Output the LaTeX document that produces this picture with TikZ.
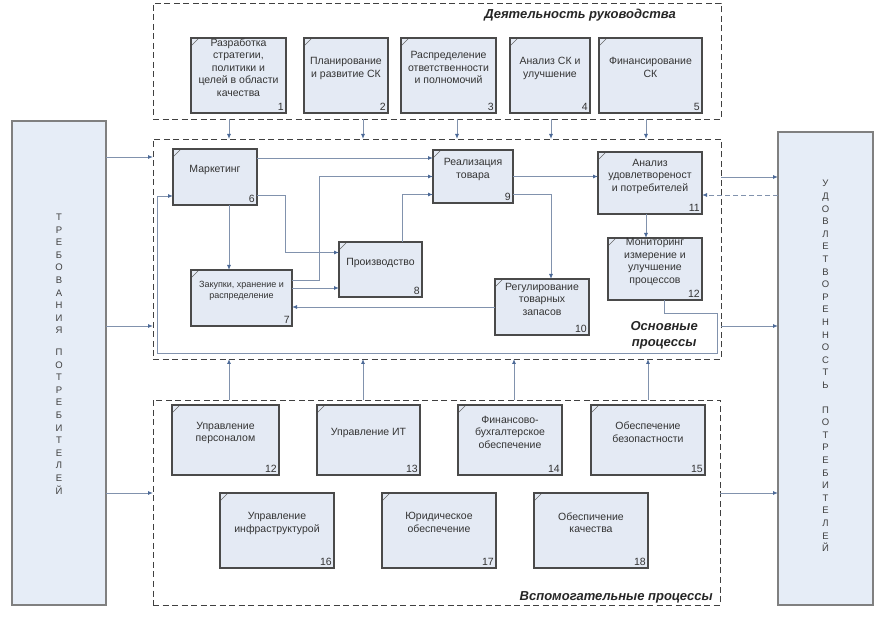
\documentclass[tikz,border=0pt]{standalone}
\usepackage{fontspec}
\setmainfont{Liberation Sans}
\usepackage{tikz}
\usetikzlibrary{shapes,positioning,calc}
\usetikzlibrary{arrows.meta}
\usetikzlibrary{shadows}
\definecolor{boxfill}{HTML}{E4EAF4}
\definecolor{boxline}{HTML}{4A4A4A}
\definecolor{linec}{HTML}{8192AD}
\definecolor{tipc}{HTML}{4A6896}
\definecolor{sidefill}{HTML}{E6EDF7}
\tikzstyle{proc} = [rectangle, draw=boxline, line width=1.2pt, fill=boxfill, text=black!80,
drop shadow={shadow xshift=1.2pt, shadow yshift=-1.2pt, fill=black!45},
inner xsep=2pt, inner ysep=0pt, outer sep=0pt, align=center, text depth=16pt,
font=\fontsize{10.5}{12.5}\selectfont,
path picture={\draw[black!60, line width=0.6pt] ([yshift=-8pt]path picture bounding box.north west) -- ([xshift=8pt]path picture bounding box.north west);}]
\tikzset{num/.style={label={[anchor=south east, inner sep=2pt, text=black!80, font=\fontsize{10.5}{12}\selectfont]south east:#1}}}
\tikzstyle{group} = [rectangle, draw=black!75, dash pattern=on 6pt off 3.5pt, line width=0.9pt, inner sep=0pt, outer sep=0pt]
\tikzstyle{grouptitle} = [inner sep=0pt, text=black!85, font=\fontsize{13}{16}\selectfont\bfseries\itshape]
\tikzstyle{side} = [rectangle, draw=black!50, line width=1.2pt, fill=sidefill, inner sep=0pt, outer sep=0pt]
\tikzstyle{sidetext} = [align=center, inner sep=0pt, text=black!75, font=\fontsize{9.5}{12.6}\selectfont]
\tikzstyle{arrow} = [draw=linec, line width=0.9pt, -{Latex[length=5pt,width=4pt,color=tipc]}]
\begin{document}
\begin{tikzpicture}[x=1pt,y=-1pt]
\useasboundingbox (0,0) rectangle (887,617);
% containers
\node (top) at (437,61) [group, minimum width=568, minimum height=116] {};
\node (main) at (437,249) [group, minimum width=568, minimum height=220] {};
\node (bot) at (436.5,502.5) [group, minimum width=567, minimum height=205] {};
\node (toptitle) at (676,15) [grouptitle, anchor=east] {Деятельность руководства};
\node (maintitle) at (698,335) [grouptitle, anchor=east, align=center] {Основные\\процессы};
\node (bottitle) at (713,600) [grouptitle, anchor=base east] {Вспомогательные процессы};
% customers
\node (req) at (59,363) [side, minimum width=94, minimum height=484] {};
\node (reqlbl) at (59,354) [sidetext] {Т\\Р\\Е\\Б\\О\\В\\А\\Н\\И\\Я\\[9pt]П\\О\\Т\\Р\\Е\\Б\\И\\Т\\Е\\Л\\Е\\Й};
\node (sat) at (825.5,368.5) [side, minimum width=95, minimum height=473] {};
\node (satlbl) at (825.5,366) [sidetext] {У\\Д\\О\\В\\Л\\Е\\Т\\В\\О\\Р\\Е\\Н\\Н\\О\\С\\Т\\Ь\\[12pt]П\\О\\Т\\Р\\Е\\Б\\И\\Т\\Е\\Л\\Е\\Й};
% management
\node (m1) at (238.5,75.5) [proc, num=1, minimum width=95, minimum height=75] {Разработка\\стратегии,\\политики и\\целей в области\\качества};
\node (m2) at (346,75.5) [proc, num=2, minimum width=84, minimum height=75] {Планирование\\и развитие СК};
\node (m3) at (448.5,75.5) [proc, num=3, minimum width=95, minimum height=75] {Распределение\\ответственности\\и полномочий};
\node (m4) at (550,75.5) [proc, num=4, minimum width=80, minimum height=75] {Анализ СК и\\улучшение};
\node (m5) at (650.5,75.5) [proc, num=5, minimum width=103, minimum height=75] {Финансирование\\СК};
% main processes
\node (p6) at (215,177) [proc, num=6, minimum width=84, minimum height=56] {Маркетинг};
\node (p7) at (241.5,298) [proc, num=7, minimum width=101, minimum height=56, font=\fontsize{9}{11.5}\selectfont] {Закупки, хранение и\\распределение};
\node (p8) at (380.5,269.5) [proc, num=8, minimum width=83, minimum height=55] {Производство};
\node (p9) at (473,176.5) [proc, num=9, minimum width=80, minimum height=53] {Реализация\\товара};
\node (p10) at (542,307) [proc, num=10, minimum width=94, minimum height=56] {Регулирование\\товарных\\запасов};
\node (p11) at (650,183) [proc, num=11, minimum width=104, minimum height=62] {Анализ\\удовлетвореност\\и потребителей};
\node (p12) at (655,269) [proc, num=12, minimum width=94, minimum height=62] {Мониторинг\\измерение и\\улучшение\\процессов};
% support processes
\node (s12) at (225.5,440) [proc, num=12, minimum width=107, minimum height=70] {Управление\\персоналом};
\node (s13) at (368.5,440) [proc, num=13, minimum width=103, minimum height=70] {Управление ИТ};
\node (s14) at (510,440) [proc, num=14, minimum width=104, minimum height=70] {Финансово-\\бухгалтерское\\обеспечение};
\node (s15) at (648,440) [proc, num=15, minimum width=114, minimum height=70] {Обеспечение\\безопастности};
\node (s16) at (277,530.5) [proc, num=16, minimum width=114, minimum height=75] {Управление\\инфраструктурой};
\node (s17) at (439,530.5) [proc, num=17, minimum width=114, minimum height=75] {Юридическое\\обеспечение};
\node (s18) at (591,530.5) [proc, num=18, minimum width=114, minimum height=75] {Обеспичение\\качества};
% links between groups
\foreach \x in {229,363,457,551,646}
  \draw[arrow] (\x,0 |- top.south) -- (\x,0 |- main.north);
\foreach \x in {229,363,514,648}
  \draw[arrow] (\x,0 |- bot.north) -- (\x,0 |- main.south);
\foreach \y/\g in {157/main,326/main,493/bot}
  \draw[arrow] (req.east |- 0,\y) -- (\g.west |- 0,\y);
\foreach \y/\g in {177/main,326/main,493/bot}
  \draw[arrow] (\g.east |- 0,\y) -- (sat.west |- 0,\y);
\draw[arrow, dash pattern=on 5pt off 3pt] (sat.west |- 0,195) -- (p11.east |- 0,195);
% main flow
\draw[arrow] ([yshift=19pt]p6.east) -- ([yshift=19pt]p6.east -| p9.west);
\draw[arrow] ([yshift=18pt]p7.east) -- ++(27,0) |- (p9.west);
\draw[arrow] ([xshift=22pt]p8.north) |- ([yshift=-18pt]p9.west);
\draw[arrow] ([yshift=-18pt]p6.east) -- ++(28,0) |- ([yshift=17pt]p8.west);
\draw[arrow] ([xshift=14pt]p6.south) -- ([xshift=14pt]p6.south |- p7.north);
\draw[arrow] ([yshift=10pt]p7.east) -- ([yshift=10pt]p7.east -| p8.west);
\draw[arrow] (p10.west) -- (p10.west -| p7.east);
\draw[arrow] (p9.east) -- (p9.east -| p11.west);
\draw[arrow] ([yshift=-18pt]p9.east) -| ([xshift=9pt]p10.north);
\draw[arrow] ([xshift=-4pt]p11.south) -- ([xshift=-4pt]p11.south |- p12.north);
\draw[arrow] ([xshift=9pt]p12.south) -- ++(0,13) -| (717,353) -| (157,196) -- ([yshift=-19pt]p6.west);
\end{tikzpicture}
\end{document}
